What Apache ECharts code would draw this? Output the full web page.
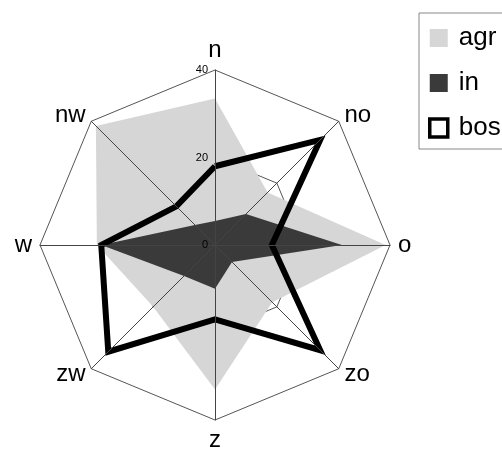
<!DOCTYPE html>
<html>
<head>
<meta charset="utf-8">
<script src="https://cdn.jsdelivr.net/npm/echarts@6/dist/echarts.min.js"></script>
<style>
html,body{margin:0;padding:0;background:#fff;}
#chart{width:502px;height:457px;}
</style>
</head>
<body>
<div id="chart"></div>
<script>
// compass directions, in reading order (clockwise from north)
var directions = ['n', 'no', 'o', 'zo', 'z', 'zw', 'w', 'nw'];
var agr = [33.5, 17, 39, 18.5, 33, 20, 27, 38.5];
var inn = [5.5, 10, 29, 5.5, 10, 10, 26, 6.5];
var bos = [18, 34, 13, 34, 17, 34.5, 26, 12.5];
var seriesNames = ['agr', 'in', 'bos'];
var axisMax = 40;
var axisTicks = ['0', '20', '40'];

// radar draws counter-clockwise: reorder n, nw, w, zw, z, zo, o, no
var order = [0, 7, 6, 5, 4, 3, 2, 1];
function reorder(arr) { return order.map(function (i) { return arr[i]; }); }

var fontFam = 'Liberation Sans, Arial, sans-serif';

var indicators = order.map(function (i) { return { name: directions[i], max: axisMax, min: 0 }; });
var indicators2 = order.map(function (i, k) {
  var ind = { name: directions[i], max: axisMax, min: 0 };
  if (k === 0) {
    ind.axisLabel = {
      show: true, color: '#000', fontSize: 11, fontFamily: fontFam, margin: 7,
      formatter: function (v) { return axisTicks[Math.round(v / 20)]; }
    };
  }
  return ind;
});

var chart = echarts.init(document.getElementById('chart'), null, { renderer: 'canvas' });
chart.setOption({
  backgroundColor: '#fff',
  animation: false,
  legend: {
    orient: 'vertical',
    left: 419,
    top: 13,
    padding: [12, 40, 8, 9],
    itemGap: 19,
    itemWidth: 18,
    itemHeight: 18,
    icon: 'rect',
    borderColor: '#888',
    borderWidth: 1,
    textStyle: { fontSize: 26, color: '#000', fontFamily: fontFam, padding: [0, 0, 0, 6] },
    data: [
      { name: 'agr', itemStyle: { color: '#d6d6d6' } },
      { name: 'in', itemStyle: { color: '#3a3a3a' } },
      { name: 'bos', itemStyle: { color: '#fff', borderColor: '#000', borderWidth: 3.5 } }
    ]
  },
  radar: [{
    center: [215, 245],
    radius: 175,
    startAngle: 90,
    shape: 'polygon',
    splitNumber: 2,
    indicator: indicators,
    axisName: { color: '#000', fontSize: 24, fontFamily: fontFam },
    nameGap: 8,
    splitLine: { lineStyle: { color: '#555', width: 1 } },
    splitArea: { show: false },
    axisLine: { show: false },
    axisTick: { show: false },
    axisLabel: { show: false },
    z: 0
  }, {
    center: [215, 245],
    radius: 175,
    startAngle: 90,
    shape: 'polygon',
    splitNumber: 2,
    indicator: indicators2,
    axisName: { show: false },
    splitLine: { show: false },
    splitArea: { show: false },
    axisLine: { show: true, lineStyle: { color: '#444', width: 1 } },
    axisTick: { show: false },
    axisLabel: { show: false },
    z: 5
  }],
  series: [{
    name: seriesNames[0],
    type: 'radar',
    radarIndex: 0,
    z: 1,
    symbol: 'none',
    lineStyle: { width: 0, color: '#d6d6d6' },
    itemStyle: { color: '#d6d6d6' },
    areaStyle: { color: '#d6d6d6', opacity: 1 },
    data: [{ name: seriesNames[0], value: reorder(agr) }]
  }, {
    name: seriesNames[1],
    type: 'radar',
    radarIndex: 0,
    z: 2,
    symbol: 'none',
    lineStyle: { width: 0, color: '#3a3a3a' },
    itemStyle: { color: '#3a3a3a' },
    areaStyle: { color: '#3a3a3a', opacity: 1 },
    data: [{ name: seriesNames[1], value: reorder(inn) }]
  }, {
    name: seriesNames[2],
    type: 'radar',
    radarIndex: 0,
    z: 4,
    symbol: 'none',
    lineStyle: { width: 6, color: '#000', join: 'miter' },
    itemStyle: { color: '#000' },
    data: [{ name: seriesNames[2], value: reorder(bos) }]
  }]
});
</script>
</body>
</html>
